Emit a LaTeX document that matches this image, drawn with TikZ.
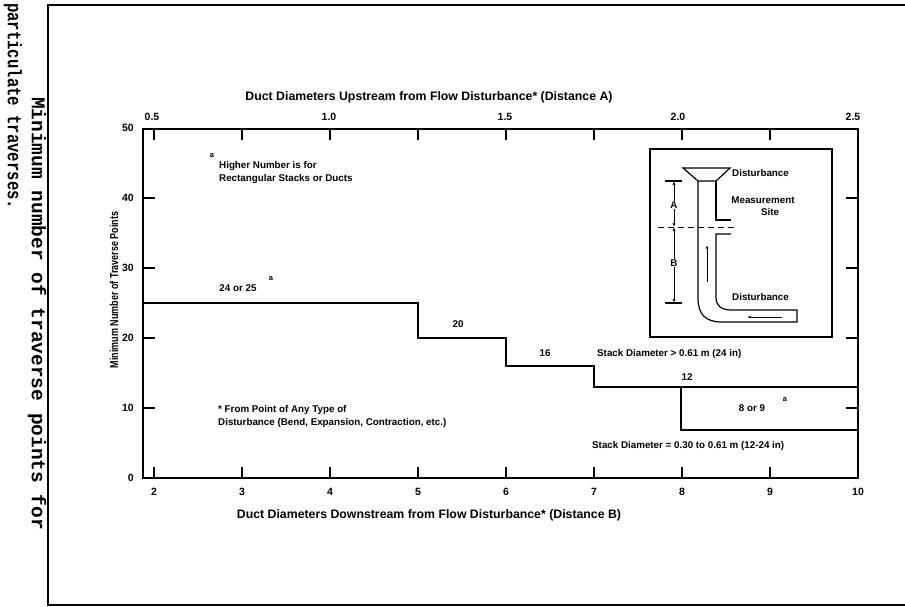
\documentclass[tikz,border=0pt]{standalone}
\usepackage{fontspec}
\setmainfont{Liberation Sans}
\newfontfamily\capfont{Liberation Mono}
\usetikzlibrary{arrows.meta}
\begin{document}
\begin{tikzpicture}[x=1pt,y=-1pt,
  lbl/.style={font=\bfseries\fontsize{9.8}{11}\selectfont, inner sep=0pt},
  suplbl/.style={font=\bfseries\fontsize{7.5}{8}\selectfont, inner sep=0pt},
  ticklbl/.style={font=\bfseries\fontsize{10.5}{12}\selectfont, inner sep=0pt},
  ttl/.style={font=\bfseries\fontsize{12.3}{14}\selectfont, inner sep=0pt},
  caplbl/.style={font=\capfont\bfseries\fontsize{19.5}{20}\selectfont, inner sep=0pt, rotate=-90, anchor=west},
  axisline/.style={line width=1.5pt},
  stepline/.style={line width=1.3pt},
  tickline/.style={line width=1.3pt},
  insetline/.style={line width=1.2pt},
  dimarrow/.style={line width=0.9pt, {Latex[length=4pt,width=3pt]}-{Latex[length=4pt,width=3pt]}},
  flowarrow/.style={line width=0.8pt, -{Latex[length=3.5pt,width=2.5pt]}},
]
\useasboundingbox (0,0) rectangle (905,607);
\fill[white] (0,0) rectangle (905,607);

% caption (rotated)
\node[caplbl] (cap1) at (37,97) {Minimum number of traverse points for};
\node[caplbl] (cap2) at (13,3) {\scalebox{0.8}[1]{particulate traverses.}};

% outer frame
\draw[line width=1.5pt] (905,5) -- (48,5) -- (48,605) -- (905,605);

% plot box
\draw[axisline] (143,129) rectangle (858,478);

% bottom and top ticks
\foreach \v in {2,...,10} {
  \pgfmathsetmacro{\xx}{418+88*(\v-5)}
  \draw[tickline] (\xx,478) -- (\xx,467);
  \draw[tickline] (\xx,129) -- (\xx,140);
  \node[ticklbl] (bx\v) at (\xx,492) {\v};
}
\node[ticklbl] (tx05) at (152,117) {0.5};
\node[ticklbl] (tx10) at (329,117) {1.0};
\node[ticklbl] (tx15) at (505,117) {1.5};
\node[ticklbl] (tx20) at (678,117) {2.0};
\node[ticklbl] (tx25) at (853,117) {2.5};

% left and right ticks
\foreach \v in {10,20,30,40} {
  \pgfmathsetmacro{\yy}{478-7*\v}
  \draw[tickline] (143,\yy) -- (155,\yy);
  \draw[tickline] (858,\yy) -- (846,\yy);
}
\foreach \v in {0,10,20,30,40,50} {
  \pgfmathsetmacro{\yy}{478-7*\v}
  \node[ticklbl, anchor=east] (ly\v) at (134,\yy) {\v};
}

% axis titles
\node[ttl] (toptitle) at (429,97) {Duct Diameters Upstream from Flow Disturbance* (Distance A)};
\node[ttl] (bottitle) at (429,515) {Duct Diameters Downstream from Flow Disturbance* (Distance B)};
\node[inner sep=0pt, rotate=90, font=\bfseries\fontsize{11.5}{14}\selectfont] (ylab) at (114,290) {\scalebox{0.78}[1]{Minimum Number of Traverse Points}};

% step function
\draw[stepline] (143,303) -- (418,303) -- (418,338) -- (506,338) -- (506,366) -- (594,366) -- (594,387) -- (858,387);
\draw[stepline] (681,387) -- (681,430) -- (858,430);

% step labels
\node[lbl] (l2425) at (238,288) {24 or 25};
\node[suplbl] (la1) at (271,279) {a};
\node[lbl] (l20) at (458,324) {20};
\node[lbl] (l16) at (545,353) {16};
\node[lbl, anchor=west] (lbig) at (597,354) {Stack Diameter > 0.61 m (24 in)};
\node[lbl] (l12) at (687,377) {12};
\node[lbl] (l89) at (752,408) {8 or 9};
\node[suplbl] (la2) at (785,400) {a};
\node[lbl, anchor=west] (lsmall) at (592,446) {Stack Diameter = 0.30 to 0.61 m (12-24 in)};

% notes
\node[suplbl] (la0) at (212,156) {a};
\node[lbl, anchor=west] (n1) at (219,166) {Higher Number is for};
\node[lbl, anchor=west] (n2) at (219,179) {Rectangular Stacks or Ducts};
\node[lbl, anchor=west] (f1) at (218,410) {* From Point of Any Type of};
\node[lbl, anchor=west] (f2) at (218,423) {Disturbance (Bend, Expansion, Contraction, etc.)};

% inset
\draw[insetline, line width=1.4pt] (650,149) rectangle (832,337);
\draw[insetline] (683,168) -- (730,168) -- (716,181) -- (698,181) -- cycle;
\draw[insetline] (716,181) -- (716,220) -- (731,220);
\draw[insetline] (698,181) -- (698,298) .. controls (698,315) and (706,322) .. (722,322) -- (797,322) -- (797,310) -- (732,310) .. controls (721,310) and (716,306) .. (716,297) -- (716,234) -- (731,234);
\draw[line width=0.9pt, dash pattern=on 6pt off 4pt] (658,227) -- (737,227);
\draw[line width=1.1pt] (665,181) -- (682,181);
\draw[line width=1.1pt] (665,303) -- (682,303);
\draw[dimarrow] (674,181) -- (674,227);
\draw[dimarrow] (674,227) -- (674,303);
\node[lbl, fill=white, inner sep=1pt] (dA) at (674,205) {A};
\node[lbl, fill=white, inner sep=1pt] (dB) at (674,263) {B};
\draw[flowarrow] (707,282) -- (707,245);
\draw[flowarrow] (782,317) -- (747,317);
\node[lbl, anchor=west] (dist1) at (732,173) {Disturbance};
\node[lbl] (meas) at (763,200) {Measurement};
\node[lbl] (site) at (770,212) {Site};
\node[lbl, anchor=west] (dist2) at (732,297) {Disturbance};
\end{tikzpicture}
\end{document}
